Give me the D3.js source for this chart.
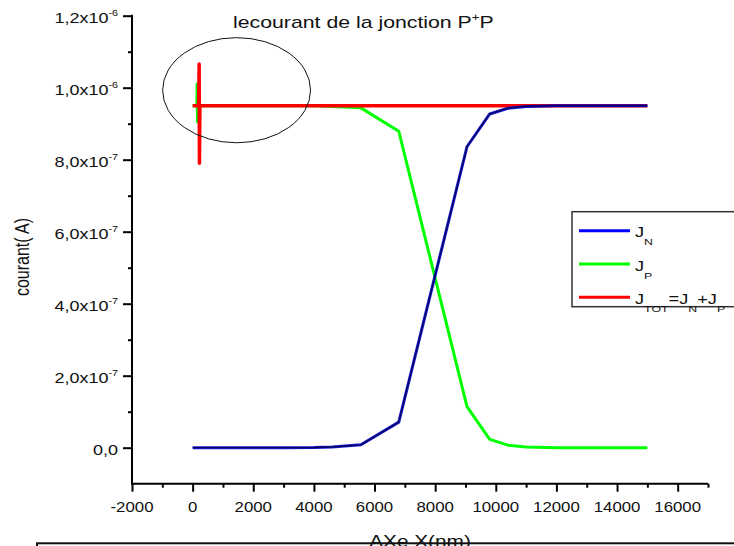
<!DOCTYPE html>
<html>
<head>
<meta charset="utf-8">
<script src="https://cdn.jsdelivr.net/npm/d3@7"></script>
<style>
  body { margin: 0; background: #fff; }
  svg { display: block; font-family: "Liberation Sans", Arial, sans-serif; }
</style>
</head>
<body>
<svg width="734" height="546"></svg>
<script>
// values (currents in A, positions in nm)
var jnX = [0, 1000, 2000, 3000, 4000, 4600, 5550, 6800, 9050, 9800, 10400, 11000, 12000, 13000, 14000, 15000];
var jnY = [0, 0, 0, 0, 0.005e-7, 0.02e-7, 0.08e-7, 0.71e-7, 8.36e-7, 9.27e-7, 9.43e-7, 9.48e-7, 9.5e-7, 9.5e-7, 9.5e-7, 9.5e-7];

var jpX = [0, 140, 150, 160, 175, 1000, 2000, 3000, 4000, 4600, 5550, 6800, 9050, 9800, 10400, 11000, 12000, 13000, 14000, 15000];
var jpY = [9.5e-7, 9.5e-7, 10.1e-7, 9.05e-7, 9.5e-7, 9.5e-7, 9.5e-7, 9.5e-7, 9.5e-7, 9.48e-7, 9.44e-7, 8.79e-7, 1.14e-7, 0.23e-7, 0.07e-7, 0.02e-7, 0, 0, 0, 0];

var jtotX = [0, 180, 200, 215, 225, 240, 1000, 4000, 8000, 12000, 15000];
var jtotY = [9.5e-7, 9.5e-7, 9.6e-7, 10.66e-7, 7.9e-7, 9.5e-7, 9.5e-7, 9.5e-7, 9.5e-7, 9.5e-7, 9.5e-7];

var xTicks = [-2000, 0, 2000, 4000, 6000, 8000, 10000, 12000, 14000, 16000];
var xMinor = [-1000, 1000, 3000, 5000, 7000, 9000, 11000, 13000, 15000, 17000];
var yTicks = [0, 2e-7, 4e-7, 6e-7, 8e-7, 1e-6, 1.2e-6];
var yMinor = [1e-7, 3e-7, 5e-7, 7e-7, 9e-7, 1.1e-6];
var yTickMant = ["0,0", "2,0x10", "4,0x10", "6,0x10", "8,0x10", "1,0x10", "1,2x10"];
var yTickExp = ["", "-7", "-7", "-7", "-7", "-6", "-6"];

var seriesNames = ["J_N", "J_P", "J_TOT"];
var seriesColors = ["#0000ff", "#00ff00", "#ff0000"];

// circled region (data units)
var circleAt = { x: 1450, y: 9.93e-7, rx: 2440, ry: 1.46e-7 };

var svg = d3.select("svg");

var x = d3.scaleLinear().domain([-2000, 17000]).range([132, 708]);
var y = d3.scaleLinear().domain([-1e-7, 1.2e-6]).range([483.7, 15.7]);

function stretched(sel, px, py, sx) {
  return sel.attr("transform", "translate(" + px + "," + py + ") scale(" + sx + ",1)");
}

// axes
var xAxis = svg.append("g").attr("transform", "translate(0," + y(-1e-7) + ")");
xAxis.call(d3.axisBottom(x).tickValues(xTicks).tickSize(8).tickFormat(""));
xAxis.append("g").call(d3.axisBottom(x).tickValues(xMinor).tickSize(4).tickFormat(""));
xAxis.selectAll(".domain").remove();
xAxis.selectAll("line").attr("stroke", "#000").attr("stroke-width", 2);

var yAxis = svg.append("g").attr("transform", "translate(" + x(-2000) + ",0)");
yAxis.call(d3.axisLeft(y).tickValues(yTicks).tickSize(9).tickFormat(""));
yAxis.append("g").call(d3.axisLeft(y).tickValues(yMinor).tickSize(4).tickFormat(""));
yAxis.selectAll(".domain").remove();
yAxis.selectAll("line").attr("stroke", "#000").attr("stroke-width", 2);

svg.append("line")
  .attr("x1", x(-2000)).attr("x2", x(17000))
  .attr("y1", y(-1e-7)).attr("y2", y(-1e-7))
  .attr("stroke", "#000").attr("stroke-width", 2);
svg.append("line")
  .attr("x1", x(-2000)).attr("x2", x(-2000))
  .attr("y1", y(1.2e-6) - 1).attr("y2", y(-1e-7) + 1)
  .attr("stroke", "#000").attr("stroke-width", 2);

// tick labels
xTicks.forEach(function(v) {
  var t = svg.append("text")
    .attr("text-anchor", "middle")
    .attr("font-size", 14)
    .attr("fill", "#111")
    .text(v);
  stretched(t, x(v), 512, 1.2);
});

yTicks.forEach(function(v, i) {
  var t = svg.append("text")
    .attr("text-anchor", "end")
    .attr("font-size", 15)
    .attr("fill", "#111");
  t.append("tspan").text(yTickMant[i]);
  if (yTickExp[i]) {
    t.append("tspan").attr("font-size", 9).attr("dy", -7).text(yTickExp[i]);
  }
  stretched(t, 118, y(v) + 7, 1.2);
});

// axis titles
var yt = svg.append("text")
  .attr("text-anchor", "middle")
  .attr("font-size", 16)
  .attr("fill", "#111")
  .text("courant( A)");
yt.attr("transform", "translate(29,257) scale(1.3,1) rotate(-90)");

var xt = svg.append("text")
  .attr("text-anchor", "middle")
  .attr("font-size", 16)
  .attr("fill", "#111")
  .text("AXe X(nm)");
stretched(xt, 420, 547, 1.3);

// title
var title = svg.append("text")
  .attr("font-size", 16)
  .attr("fill", "#111");
title.append("tspan").text("lecourant de la jonction P");
title.append("tspan").attr("font-size", 10).attr("dy", -7).text("+");
title.append("tspan").attr("dy", 7).text("P");
stretched(title, 233, 28, 1.33);

// curves
function toPoints(xs, ys) {
  return xs.map(function(v, i) { return [v, ys[i]]; });
}
var line = d3.line()
  .x(function(d) { return x(d[0]); })
  .y(function(d) { return y(d[1]); });

svg.append("path")
  .datum(toPoints(jpX, jpY))
  .attr("d", line)
  .attr("fill", "none")
  .attr("stroke", seriesColors[1])
  .attr("stroke-width", 3)
  .attr("stroke-linejoin", "round");

svg.append("path")
  .datum(toPoints(jtotX, jtotY))
  .attr("d", line)
  .attr("fill", "none")
  .attr("stroke", seriesColors[2])
  .attr("stroke-width", 3.5)
  .attr("stroke-linejoin", "round");

var jn = toPoints(jnX, jnY);
svg.append("path")
  .datum(jn)
  .attr("d", line)
  .attr("fill", "none")
  .attr("stroke", "#0000d0")
  .attr("stroke-width", 3)
  .attr("stroke-opacity", 0.9)
  .attr("stroke-linejoin", "round");
svg.append("path")
  .datum(jn)
  .attr("d", line)
  .attr("fill", "none")
  .attr("stroke", "#000040")
  .attr("stroke-width", 1.3)
  .attr("stroke-opacity", 0.8)
  .attr("stroke-linejoin", "round");

// annotation ellipse
svg.append("ellipse")
  .attr("cx", x(circleAt.x))
  .attr("cy", y(circleAt.y))
  .attr("rx", x(circleAt.x + circleAt.rx) - x(circleAt.x))
  .attr("ry", y(circleAt.y - circleAt.ry) - y(circleAt.y))
  .attr("fill", "none")
  .attr("stroke", "#111")
  .attr("stroke-width", 1);

// legend
var legend = svg.append("g");
legend.append("rect")
  .attr("x", 572).attr("y", 211.7)
  .attr("width", 180).attr("height", 95)
  .attr("fill", "#fff")
  .attr("stroke", "#333")
  .attr("stroke-width", 1.5);

var legendRows = [230.7, 264, 297.3];
seriesNames.forEach(function(name, i) {
  var ly = legendRows[i];
  legend.append("line")
    .attr("x1", 579).attr("x2", 630)
    .attr("y1", ly).attr("y2", ly)
    .attr("stroke", seriesColors[i])
    .attr("stroke-width", 3);
  var t = legend.append("text").attr("font-size", 14).attr("fill", "#111");
  var parts = name.split("_");
  if (name === "J_TOT") {
    t.append("tspan").text("J");
    t.append("tspan").attr("font-size", 9.5).attr("dy", 8).text("TOT");
    t.append("tspan").attr("dy", -8).text("=J");
    t.append("tspan").attr("font-size", 9.5).attr("dy", 8).text("N");
    t.append("tspan").attr("dy", -8).text("+J");
    t.append("tspan").attr("font-size", 9.5).attr("dy", 8).text("P");
  } else {
    t.append("tspan").text(parts[0]);
    t.append("tspan").attr("font-size", 9.5).attr("dy", 8).text(parts[1]);
  }
  stretched(t, 635, ly + 6.6, 1.3);
});

// frame of the caption box below
svg.append("rect")
  .attr("x", 37).attr("y", 543.3)
  .attr("width", 720).attr("height", 20)
  .attr("fill", "none")
  .attr("stroke", "#111")
  .attr("stroke-width", 2);
</script>
</body>
</html>
